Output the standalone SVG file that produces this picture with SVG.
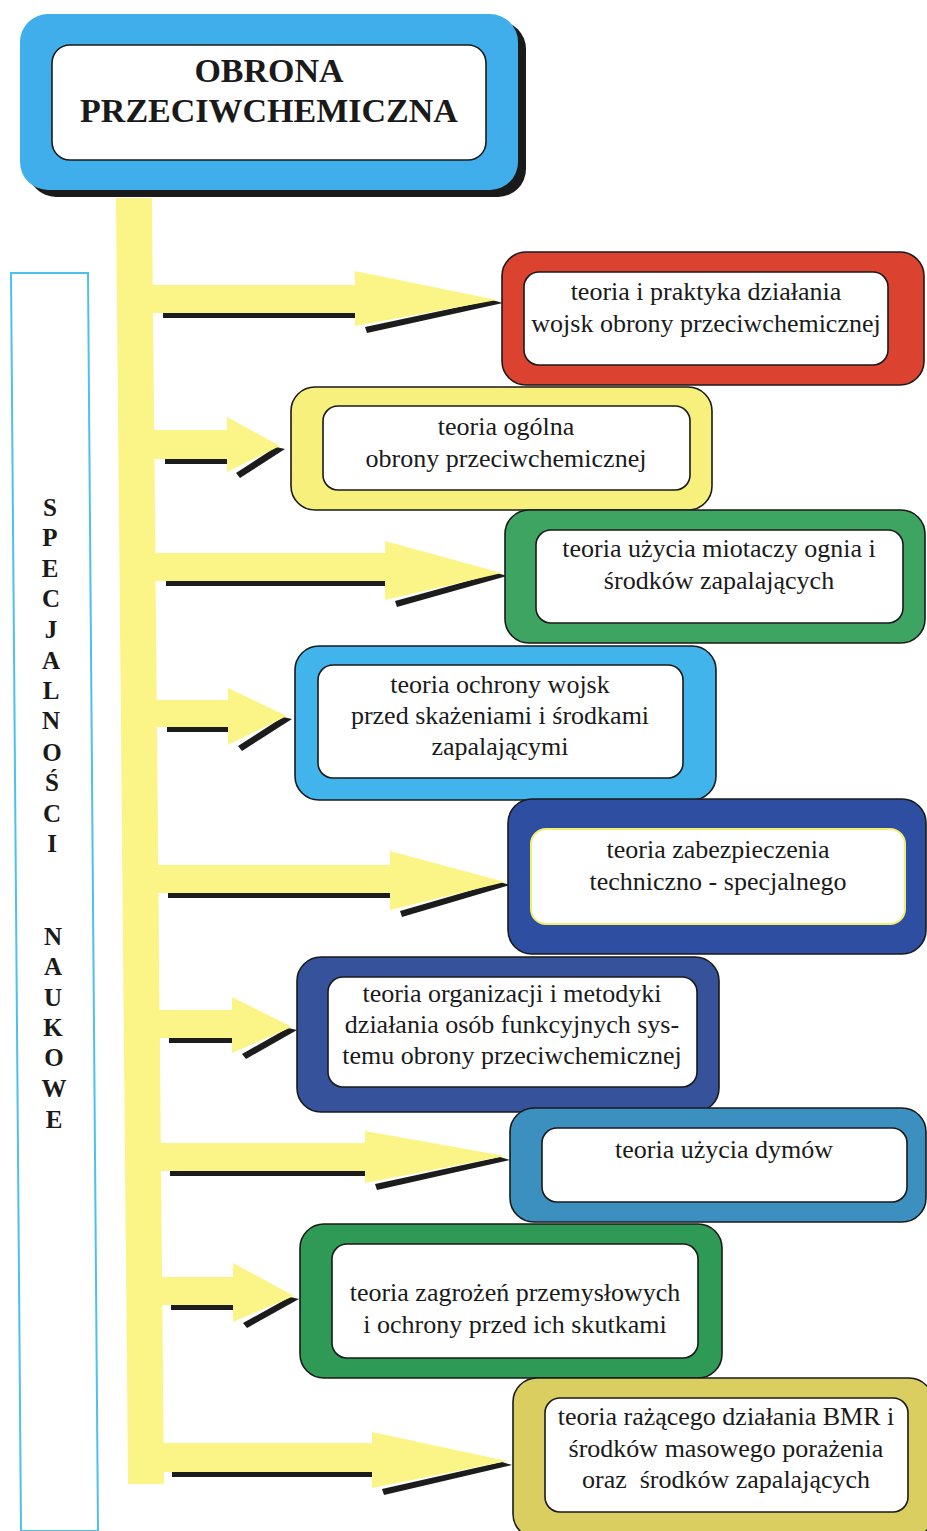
<svg xmlns="http://www.w3.org/2000/svg" width="927" height="1531" viewBox="0 0 927 1531">
  <style>
    .outer { stroke: #1a1a1a; stroke-width: 1.6; }
    .inner { fill: #ffffff; stroke: #1a1a1a; stroke-width: 1.6; }
    .lbl { font-family: "Liberation Serif", "Times New Roman", serif; font-size: 26px; fill: #1a1a1a; text-anchor: middle; }
    .title { font-family: "Liberation Serif", "Times New Roman", serif; font-size: 34px; font-weight: bold; fill: #1a1a1a; text-anchor: middle; }
    .side { font-family: "Liberation Serif", "Times New Roman", serif; font-size: 25px; font-weight: bold; fill: #1a1a1a; text-anchor: middle; }
    .yel { fill: #fbf587; }
    .shd { fill: #1c1c1c; }
  </style>

  <rect width="927" height="1531" fill="#ffffff"/>

  <!-- side frame with vertical label -->
  <g id="side-label">
    <polygon points="11,273 88,273 98,1531 21,1531" fill="none" stroke="#4cc0ef" stroke-width="2"/>
    <text class="side" x="50" y="516">S</text>
    <text class="side" x="50" y="546">P</text>
    <text class="side" x="50" y="577">E</text>
    <text class="side" x="51" y="607">C</text>
    <text class="side" x="51" y="638">J</text>
    <text class="side" x="51" y="669">A</text>
    <text class="side" x="51" y="699">L</text>
    <text class="side" x="51" y="729">N</text>
    <text class="side" x="52" y="761">O</text>
    <text class="side" x="52" y="791">Ś</text>
    <text class="side" x="52" y="822">C</text>
    <text class="side" x="52" y="852">I</text>
    <text class="side" x="53" y="945">N</text>
    <text class="side" x="53" y="975">A</text>
    <text class="side" x="53" y="1006">U</text>
    <text class="side" x="53" y="1036">K</text>
    <text class="side" x="54" y="1066">O</text>
    <text class="side" x="54" y="1097">W</text>
    <text class="side" x="54" y="1128" font-weight="normal">E</text>
  </g>

  <!-- root node -->
  <g id="root">
    <rect x="28" y="21" width="498" height="176" rx="28" fill="#1a1a1a"/>
    <rect x="20" y="14" width="498" height="176" rx="28" fill="#40aeea"/>
    <rect class="inner" x="52" y="45" width="434" height="115" rx="18"/>
    <text class="title" x="269" y="82">OBRONA</text>
    <text class="title" x="269" y="122">PRZECIWCHEMICZNA</text>
  </g>

  <!-- trunk and branch arrows -->
  <g id="connectors">
    <polygon class="yel" points="116,198 152,198 164,1484 128,1484"/>

    <!-- 1 -->
    <rect class="shd" x="163" y="313" width="192" height="5"/>
    <polygon class="shd" points="365,327 492,300 503,303 367,333"/>
    <polygon class="yel" points="140,285 355,285 355,271 497,300 355,326 355,313 140,313"/>
    <!-- 2 -->
    <rect class="shd" x="165" y="459" width="62" height="5"/>
    <polygon class="shd" points="236,473 276,447 285,449 240,478"/>
    <polygon class="yel" points="140,430 227,430 227,417 280,446 227,472 227,459 140,459"/>
    <!-- 3 -->
    <rect class="shd" x="166" y="581" width="219" height="5"/>
    <polygon class="shd" points="395,601 497,573 507,576 397,607"/>
    <polygon class="yel" points="140,553 385,553 385,541 502,573 385,600 385,581 140,581"/>
    <!-- 4 -->
    <rect class="shd" x="167" y="727" width="61" height="5"/>
    <polygon class="shd" points="238,746 283,717 292,719 242,751"/>
    <polygon class="yel" points="140,700 228,700 228,688 287,716 228,745 228,727 140,727"/>
    <!-- 5 -->
    <rect class="shd" x="168" y="893" width="222" height="5"/>
    <polygon class="shd" points="400,911 500,882 510,885 402,917"/>
    <polygon class="yel" points="140,865 390,865 390,851 505,882 390,910 390,893 140,893"/>
    <!-- 6 -->
    <rect class="shd" x="169" y="1038" width="63" height="5"/>
    <polygon class="shd" points="242,1054 288,1028 297,1030 246,1059"/>
    <polygon class="yel" points="140,1010 232,1010 232,997 292,1027 232,1053 232,1038 140,1038"/>
    <!-- 7 -->
    <rect class="shd" x="170" y="1171" width="195" height="5"/>
    <polygon class="shd" points="375,1184 500,1157 510,1160 377,1190"/>
    <polygon class="yel" points="140,1143 365,1143 365,1131 505,1156 365,1183 365,1171 140,1171"/>
    <!-- 8 -->
    <rect class="shd" x="171" y="1305" width="62" height="5"/>
    <polygon class="shd" points="243,1323 290,1297 299,1299 247,1328"/>
    <polygon class="yel" points="140,1277 233,1277 233,1263 294,1296 233,1322 233,1305 140,1305"/>
    <!-- 9 -->
    <rect class="shd" x="172" y="1472" width="200" height="5"/>
    <polygon class="shd" points="382,1489 502,1462 512,1465 384,1495"/>
    <polygon class="yel" points="140,1443 372,1443 372,1432 507,1461 372,1488 372,1472 140,1472"/>
  </g>

  <!-- branch nodes -->
  <g id="n1">
    <rect class="outer" x="502" y="252" width="422" height="133" rx="24" fill="#dc4230"/>
    <rect class="inner" x="524" y="272" width="364" height="93" rx="15"/>
    <text class="lbl" x="706" y="300">teoria i praktyka działania</text>
    <text class="lbl" x="706" y="332">wojsk obrony przeciwchemicznej</text>
  </g>

  <g id="n2">
    <rect class="outer" x="291" y="387" width="421" height="123" rx="24" fill="#f8f07c"/>
    <rect class="inner" x="323" y="406" width="367" height="84" rx="15"/>
    <text class="lbl" x="506" y="435">teoria ogólna</text>
    <text class="lbl" x="506" y="467">obrony przeciwchemicznej</text>
  </g>

  <g id="n3">
    <rect class="outer" x="505" y="510" width="420" height="133" rx="24" fill="#3ea462"/>
    <rect class="inner" x="536" y="530" width="367" height="93" rx="15"/>
    <text class="lbl" x="719" y="557">teoria użycia miotaczy ognia i</text>
    <text class="lbl" x="719" y="589">środków zapalających</text>
  </g>

  <g id="n4">
    <rect class="outer" x="295" y="646" width="421" height="154" rx="24" fill="#41b4ec"/>
    <rect class="inner" x="318" y="665" width="365" height="113" rx="15"/>
    <text class="lbl" x="500" y="693">teoria ochrony wojsk</text>
    <text class="lbl" x="500" y="724">przed skażeniami i środkami</text>
    <text class="lbl" x="500" y="755">zapalającymi</text>
  </g>

  <g id="n5">
    <rect class="outer" x="508" y="799" width="418" height="155" rx="24" fill="#2e4ea2"/>
    <rect x="531" y="829" width="374" height="95" rx="15" fill="#ffffff" stroke="#f4ee6a" stroke-width="2"/>
    <text class="lbl" x="718" y="858">teoria zabezpieczenia</text>
    <text class="lbl" x="718" y="890">techniczno - specjalnego</text>
  </g>

  <g id="n6">
    <rect class="outer" x="297" y="957" width="422" height="155" rx="24" fill="#35529b"/>
    <rect class="inner" x="328" y="977" width="369" height="110" rx="15"/>
    <text class="lbl" x="512" y="1002">teoria organizacji i metodyki</text>
    <text class="lbl" x="512" y="1033">działania osób funkcyjnych sys-</text>
    <text class="lbl" x="512" y="1064">temu obrony przeciwchemicznej</text>
  </g>

  <g id="n7">
    <rect class="outer" x="510" y="1108" width="416" height="114" rx="24" fill="#3b90bf"/>
    <rect class="inner" x="542" y="1128" width="365" height="74" rx="15"/>
    <text class="lbl" x="724" y="1158">teoria użycia dymów</text>
  </g>

  <g id="n8">
    <rect class="outer" x="300" y="1224" width="422" height="154" rx="24" fill="#2f9a55"/>
    <rect class="inner" x="332" y="1244" width="366" height="114" rx="15"/>
    <text class="lbl" x="515" y="1301">teoria zagrożeń przemysłowych</text>
    <text class="lbl" x="515" y="1333">i ochrony przed ich skutkami</text>
  </g>

  <g id="n9">
    <rect class="outer" x="513" y="1378" width="420" height="160" rx="24" fill="#d9ce5f"/>
    <rect class="inner" x="545" y="1398" width="363" height="114" rx="15"/>
    <text class="lbl" x="726" y="1425">teoria rażącego działania BMR i</text>
    <text class="lbl" x="726" y="1457">środków masowego porażenia</text>
    <text class="lbl" x="726" y="1488" xml:space="preserve">oraz  środków zapalających</text>
  </g>
</svg>
